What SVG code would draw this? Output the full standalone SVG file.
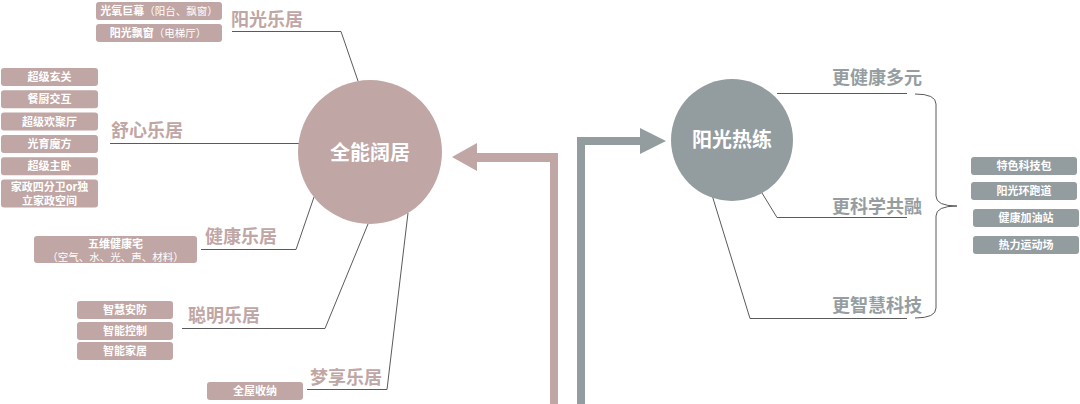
<svg xmlns="http://www.w3.org/2000/svg" width="1080" height="404" viewBox="0 0 1080 404">
<style>
text{font-family:"Noto Sans CJK SC","Noto Sans",sans-serif}
.pb{fill:#c0a6a4}
.gb{fill:#939c9f}
.bt{fill:#fff;font-size:11px;font-weight:700;text-anchor:middle}
.bn{font-weight:400}
.pl{fill:#c0a6a4;font-size:18px;font-weight:700}
.gl{fill:#959da0;font-size:18px;font-weight:700}
.ct{fill:#fff;font-size:20px;font-weight:700;text-anchor:middle}
.ln{fill:none;stroke:#5a5a5a;stroke-width:1}
</style>
<rect width="1080" height="404" fill="#fff"/>
<g id="connectors">
<polyline class="ln" points="232,31.5 341,31.5 358,81"/>
<polyline class="ln" points="110,143.5 299,143.5"/>
<polyline class="ln" points="201,249.5 296,249.5 314,197"/>
<polyline class="ln" points="182,328.5 325,328.5 368,224"/>
<polyline class="ln" points="307,389.5 387,389.5 408,213"/>
<polyline class="ln" points="777,93.5 907,93.5"/>
<polyline class="ln" points="762,193 777,217.5 907,217.5"/>
<polyline class="ln" points="712,195 750,318.5 907,318.5"/>
<path class="ln" d="M915,94 Q936,94 936,104 L936,196 Q936,206 957,206 Q936,206 936,216 L936,308 Q936,318 915,318"/>
<polygon class="pb" points="558,404 550,404 550,162 477,162 477,171 452,157 477,143 477,153 558,153"/>
<polygon class="gb" points="577,404 585,404 585,145 640,145 640,154 666,141 640,128 640,137 577,137"/>
</g>
<g id="hub-quanneng">
<circle class="pb" cx="370" cy="152" r="72"/>
<text class="ct" x="370" y="160">全能阔居</text>
</g>
<g id="hub-yangguang">
<circle class="gb" cx="732" cy="140" r="61"/>
<text class="ct" x="732" y="147">阳光热练</text>
</g>
<g id="cat-yangguangleju">
<text class="pl" x="231" y="26">阳光乐居</text>
<rect class="pb" x="96" y="2" width="126" height="18" rx="3"/>
<text class="bt" x="159" y="15">光氧巨幕<tspan class="bn" font-size="10.5">（阳台、飘窗）</tspan></text>
<rect class="pb" x="96" y="24" width="126" height="18" rx="3"/>
<text class="bt" x="158" y="37">阳光飘窗<tspan class="bn" font-size="10.5">（电梯厅）</tspan></text>
</g>
<g id="cat-shuxinleju">
<text class="pl" x="111" y="137">舒心乐居</text>
<rect class="pb" x="1" y="68" width="97" height="18" rx="3"/>
<text class="bt" x="49.5" y="81">超级玄关</text>
<rect class="pb" x="1" y="90.3" width="97" height="18" rx="3"/>
<text class="bt" x="49.5" y="103.3">餐厨交互</text>
<rect class="pb" x="1" y="112.6" width="97" height="18" rx="3"/>
<text class="bt" x="49.5" y="125.6">超级欢聚厅</text>
<rect class="pb" x="1" y="134.9" width="97" height="18" rx="3"/>
<text class="bt" x="49.5" y="147.9">光育魔方</text>
<rect class="pb" x="1" y="157.2" width="97" height="18" rx="3"/>
<text class="bt" x="49.5" y="170.2">超级主卧</text>
<rect class="pb" x="1" y="179.5" width="97" height="28" rx="3"/>
<text class="bt" font-size="10.5"><tspan x="49.5" y="190.5">家政四分卫or独</tspan><tspan x="49.5" y="204.5">立家政空间</tspan></text>
</g>
<g id="cat-jiankangleju">
<text class="pl" x="205" y="243">健康乐居</text>
<rect class="pb" x="34" y="236" width="163" height="27" rx="3"/>
<text class="bt"><tspan x="115.5" y="248">五维健康宅</tspan><tspan class="bn" x="115.5" y="261" font-size="10.5">（空气、水、光、声、材料）</tspan></text>
</g>
<g id="cat-congmingleju">
<text class="pl" x="188" y="322">聪明乐居</text>
<rect class="pb" x="77" y="301" width="96" height="18" rx="3"/>
<text class="bt" x="125" y="314">智慧安防</text>
<rect class="pb" x="77" y="322" width="96" height="18" rx="3"/>
<text class="bt" x="125" y="335">智能控制</text>
<rect class="pb" x="77" y="342" width="96" height="18" rx="3"/>
<text class="bt" x="125" y="355">智能家居</text>
</g>
<g id="cat-mengxiangleju">
<text class="pl" x="310" y="384">梦享乐居</text>
<rect class="pb" x="207" y="382" width="96" height="18" rx="3"/>
<text class="bt" x="255" y="395">全屋收纳</text>
</g>
<g id="cat-right-labels">
<text class="gl" x="832" y="84">更健康多元</text>
<text class="gl" x="832" y="213">更科学共融</text>
<text class="gl" x="832" y="312">更智慧科技</text>
</g>
<g id="right-boxes">
<rect class="gb" x="971" y="157" width="106" height="18" rx="3"/>
<text class="bt" x="1024" y="170">特色科技包</text>
<rect class="gb" x="971" y="182" width="106" height="18" rx="3"/>
<text class="bt" x="1024" y="195">阳光环跑道</text>
<rect class="gb" x="973" y="209" width="106" height="18" rx="3"/>
<text class="bt" x="1026" y="222">健康加油站</text>
<rect class="gb" x="973" y="236" width="106" height="18" rx="3"/>
<text class="bt" x="1026" y="249">热力运动场</text>
</g>
</svg>
